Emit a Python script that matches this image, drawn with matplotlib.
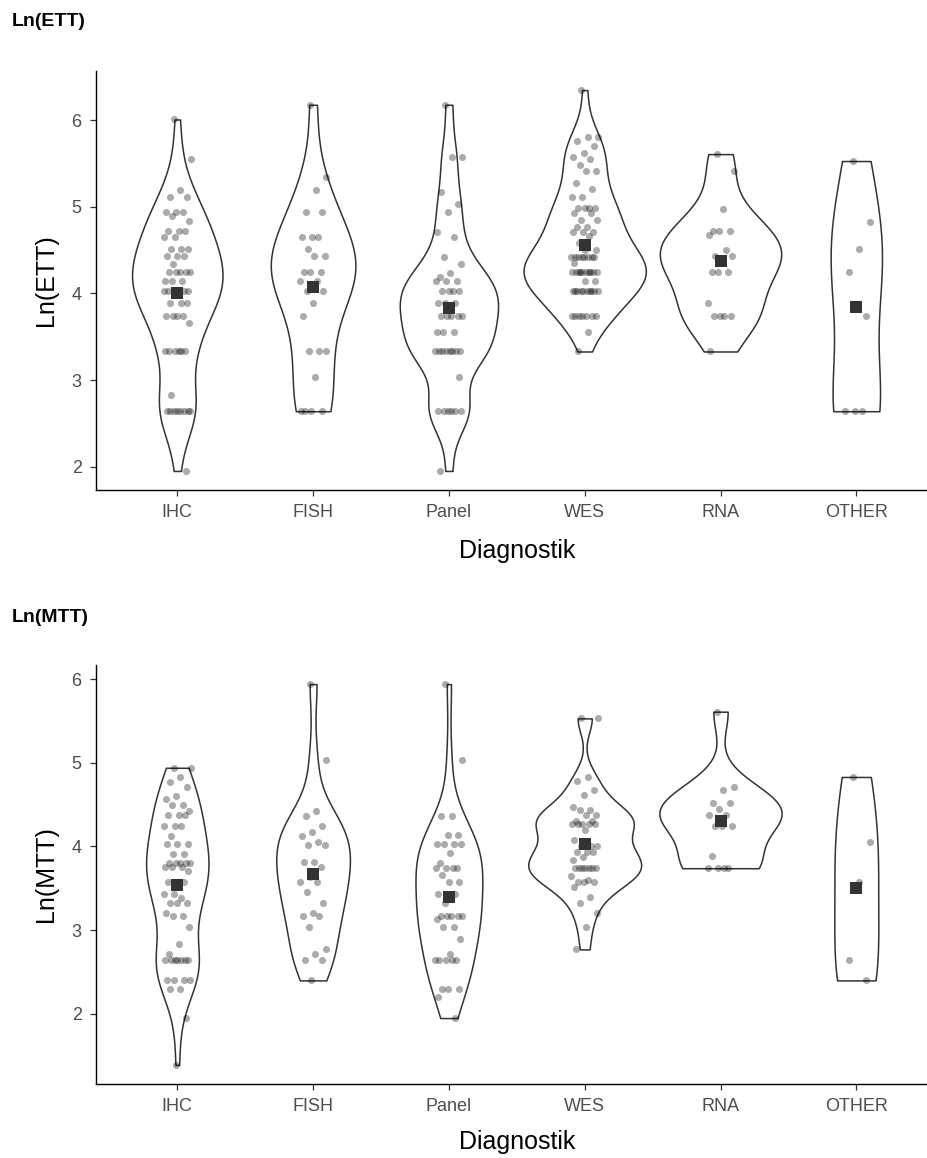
import numpy as np
import matplotlib
matplotlib.use("Agg")
import matplotlib.pyplot as plt

plt.rcParams['font.family'] = ['Liberation Sans', 'DejaVu Sans']

categories = ["IHC", "FISH", "Panel", "WES", "RNA", "OTHER"]

# ---- Ln(ETT) values per diagnostic group ----
ett_ihc = [6.01, 5.55, 5.20, 5.12, 5.12, 4.94, 4.94, 4.94, 4.89, 4.84,
           4.72, 4.72, 4.72, 4.65, 4.65, 4.51, 4.51, 4.51, 4.43, 4.43, 4.43,
           4.34, 4.25, 4.25, 4.25, 4.25, 4.25, 4.14, 4.14, 4.14, 4.03, 4.03,
           4.03, 4.03, 4.03, 4.03, 3.89, 3.89, 3.89, 3.74, 3.74, 3.74, 3.74,
           3.66, 3.33, 3.33, 3.33, 3.33, 3.33, 3.33, 2.83, 2.64, 2.64, 2.64,
           2.64, 2.64, 2.64, 2.64, 2.64, 1.95]
ett_fish = [6.18, 5.35, 5.20, 4.94, 4.94, 4.65, 4.65, 4.65, 4.51, 4.43, 4.43,
            4.25, 4.25, 4.25, 4.14, 4.14, 4.03, 4.03, 3.89, 3.74, 3.33, 3.33,
            3.33, 3.04, 2.64, 2.64, 2.64, 2.64]
ett_panel = [6.18, 5.58, 5.58, 5.17, 5.03, 4.94, 4.71, 4.65, 4.42, 4.34, 4.24,
             4.19, 4.14, 4.14, 4.14, 4.03, 4.03, 4.03, 4.03, 3.89, 3.89, 3.89,
             3.74, 3.74, 3.74, 3.74, 3.74, 3.56, 3.56, 3.56, 3.33, 3.33, 3.33,
             3.33, 3.33, 3.33, 3.33, 3.33, 3.04, 2.64, 2.64, 2.64, 2.64, 2.64,
             2.64, 1.95]
ett_wes = [6.35, 5.81, 5.81, 5.76, 5.70, 5.62, 5.58, 5.55, 5.48, 5.41, 5.41,
           5.28, 5.21, 5.12, 5.12, 4.99, 4.99, 4.99, 4.99,
           4.93, 4.93, 4.85, 4.85, 4.77, 4.77, 4.71, 4.71, 4.71,
           4.66, 4.58, 4.50, 4.50, 4.42, 4.42, 4.42, 4.42, 4.42, 4.42, 4.42,
           4.42, 4.35, 4.25, 4.25, 4.25, 4.25, 4.25, 4.25, 4.25, 4.25, 4.25,
           4.25, 4.14, 4.14, 4.03, 4.03, 4.03, 4.03, 4.03, 4.03, 4.03, 4.03,
           4.03, 4.03, 3.74, 3.74, 3.74, 3.74, 3.74, 3.74, 3.74,
           3.56, 3.33]
ett_rna = [5.61, 5.41, 4.98, 4.72, 4.72, 4.72, 4.67, 4.50, 4.43, 4.43, 4.35,
           4.25, 4.25, 4.25, 3.89, 3.74, 3.74, 3.74, 3.74, 3.33]
ett_other = [5.53, 4.83, 4.51, 4.25, 3.74, 2.64, 2.64, 2.64]

# ---- Ln(MTT) values per diagnostic group ----
mtt_ihc = [4.94, 4.94, 4.83, 4.77, 4.71, 4.60, 4.57, 4.50, 4.50, 4.42, 4.37,
           4.37, 4.37, 4.25, 4.25, 4.25, 4.13, 4.03, 4.03, 4.03, 3.91, 3.91,
           3.80, 3.80, 3.80, 3.80, 3.80, 3.75, 3.75, 3.75, 3.71, 3.57, 3.57,
           3.57, 3.43, 3.43, 3.39, 3.33, 3.33, 3.33, 3.21, 3.17, 3.17, 3.04,
           2.83, 2.71, 2.64, 2.64, 2.64, 2.64, 2.64, 2.64, 2.64, 2.40, 2.40,
           2.40, 2.40, 2.30, 2.30, 1.95, 1.39]
mtt_fish = [5.94, 5.03, 4.42, 4.36, 4.24, 4.17, 4.13, 4.05, 4.02, 4.02, 3.81,
            3.81, 3.75, 3.63, 3.57, 3.57, 3.46, 3.33, 3.21, 3.17, 3.17, 3.04,
            2.77, 2.71, 2.64, 2.64, 2.40]
mtt_panel = [5.94, 5.03, 4.36, 4.36, 4.14, 4.14, 4.03, 4.03, 4.03, 4.03, 3.92,
             3.80, 3.74, 3.74, 3.74, 3.74, 3.66, 3.57, 3.57, 3.43, 3.43, 3.33,
             3.17, 3.17, 3.17, 3.17, 3.17, 3.13, 3.04, 3.04, 2.89, 2.71, 2.64,
             2.64, 2.64, 2.64, 2.64, 2.30, 2.30, 2.30, 2.20, 1.95]
mtt_wes = [5.53, 5.53, 4.83, 4.78, 4.68, 4.61, 4.47, 4.43, 4.43, 4.37, 4.37,
           4.31, 4.31, 4.27, 4.27, 4.27, 4.27, 4.27, 4.20, 4.08, 4.00, 4.00,
           4.00, 3.93, 3.93, 3.93, 3.88, 3.84, 3.74, 3.74, 3.74, 3.74, 3.74,
           3.74, 3.74, 3.65, 3.60, 3.58, 3.58, 3.58, 3.52, 3.40, 3.33, 3.21,
           3.04, 2.77]
mtt_rna = [5.61, 4.71, 4.67, 4.52, 4.52, 4.45, 4.37, 4.37, 4.25, 4.25, 4.25,
           3.89, 3.74, 3.74, 3.74, 3.74]
mtt_other = [4.83, 4.05, 3.57, 2.64, 2.40]

panels = [
    ("Ln(ETT)", [ett_ihc, ett_fish, ett_panel, ett_wes, ett_rna, ett_other]),
    ("Ln(MTT)", [mtt_ihc, mtt_fish, mtt_panel, mtt_wes, mtt_rna, mtt_other]),
]

W, H = 928, 1158
fig = plt.figure(figsize=(W / 100, H / 100), dpi=100)


def px_axes(left, top, right, bottom):
    return fig.add_axes([left / W, 1 - bottom / H, (right - left) / W, (bottom - top) / H])


def nrd0(x):
    x = np.asarray(x, float)
    sd = np.std(x, ddof=1)
    q75, q25 = np.percentile(x, [75, 25])
    lo = min(sd, (q75 - q25) / 1.34)
    if lo <= 0:
        lo = sd if sd > 0 else 1.0
    return 0.9 * lo * len(x) ** (-0.2)


def kde(x, grid, adjust=1.0):
    x = np.asarray(x, float)
    bw = nrd0(x) * adjust
    z = (grid[:, None] - x[None, :]) / bw
    return np.exp(-0.5 * z ** 2).sum(axis=1) / (len(x) * bw * np.sqrt(2 * np.pi))


boxes = [(95.8, 71, 937.8, 490), (95.8, 665, 937.8, 1084)]
title_base = [26, 622]
xlab_base = [558, 1149]

for (title, groups), box, tb, xb in zip(panels, boxes, title_base, xlab_base):
    ax = px_axes(*box)
    pos = np.arange(1, len(categories) + 1)
    dens_list = []
    for vals in groups:
        g = np.linspace(min(vals), max(vals), 512)
        dens_list.append((g, kde(vals, g)))
    dmax = max(d.max() for _, d in dens_list)
    for p, (g, d) in zip(pos, dens_list):
        w = d / dmax * 0.45
        ax.fill_betweenx(g, p - w, p + w, facecolor='white', edgecolor='#333333',
                         linewidth=1.1, zorder=1)
    for p, vals in zip(pos, groups):
        n = len(vals)
        k = np.arange(n)
        off = ((k * 0.6180339887 + 0.37) % 1.0 * 2 - 1) * 0.1
        ax.scatter(p + off, vals, s=26, color='black', alpha=0.33,
                   linewidths=0, zorder=2)
        ax.scatter([p], [np.mean(vals)], marker='s', s=80, color='#333333',
                   linewidths=0, zorder=3)
    allv = np.concatenate([np.asarray(v) for v in groups])
    lo, hi = allv.min(), allv.max()
    r = hi - lo
    ax.set_ylim(lo - 0.05 * r, hi + 0.05 * r)
    ax.set_xlim(0.4, len(categories) + 0.6)
    ax.set_xticks(pos)
    ax.set_xticklabels(categories)
    ax.set_yticks([2, 3, 4, 5, 6])
    for s in ['top', 'right']:
        ax.spines[s].set_visible(False)
    for s in ['left', 'bottom']:
        ax.spines[s].set_linewidth(1.0)
        ax.spines[s].set_color('black')
    ax.tick_params(axis='both', length=4.2, width=0.9, color='#333333',
                   labelcolor='#4D4D4D', labelsize=13)
    ax.tick_params(axis='x', pad=6)
    ax.tick_params(axis='y', pad=6)
    cy = (box[1] + box[3]) / 2
    cx = (box[0] + box[2]) / 2
    fig.text(46 / W, 1 - cy / H, title, rotation=90, ha='center', va='center',
             fontsize=18, color='black')
    fig.text(cx / W, 1 - xb / H, "Diagnostik", ha='center', va='baseline',
             fontsize=18, color='black')
    fig.text(11.7 / W, 1 - tb / H, title, ha='left', va='baseline',
             fontsize=14, fontweight='bold', color='black')

fig.savefig("out.png", dpi=100)
